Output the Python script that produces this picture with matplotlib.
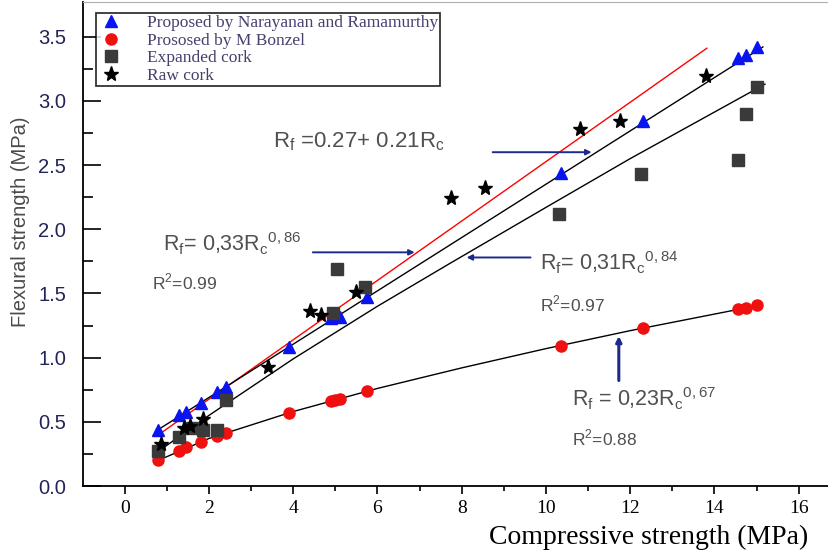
import numpy as np
import matplotlib
matplotlib.use('Agg')
from matplotlib import pyplot as plt

# compressive strength (MPa) shared by the two model series
rc_model = [0.8, 1.3, 1.45, 1.8, 2.2, 2.4, 3.9, 4.9, 5.0, 5.1, 5.75, 10.35, 12.3, 14.55, 14.75, 15.0]
rf_narayanan = [0.44, 0.55, 0.58, 0.65, 0.73, 0.77, 1.08, 1.31, 1.33, 1.32, 1.47, 2.44, 2.84, 3.33, 3.36, 3.42]
rf_bonzel = [0.20, 0.27, 0.30, 0.34, 0.39, 0.41, 0.57, 0.66, 0.67, 0.68, 0.74, 1.09, 1.23, 1.38, 1.39, 1.41]

# measured points
rc_expanded = [0.8, 1.3, 1.6, 1.85, 2.2, 2.4, 4.95, 5.05, 5.7, 10.3, 12.25, 14.55, 14.75, 15.0]
rf_expanded = [0.27, 0.38, 0.45, 0.44, 0.44, 0.67, 1.35, 1.69, 1.55, 2.12, 2.43, 2.54, 2.90, 3.11]
rc_raw = [0.85, 1.4, 1.55, 1.85, 3.4, 4.4, 4.65, 5.5, 7.75, 8.55, 10.8, 11.75, 13.8]
rf_raw = [0.33, 0.45, 0.47, 0.52, 0.93, 1.36, 1.33, 1.51, 2.24, 2.32, 2.78, 2.84, 3.19]

# fitted curves
fit_red_x = [0.85, 13.82]
fit_red_y = [0.41, 3.41]
fit_lin_x = [0.8, 15.15]
fit_lin_y = [0.44, 3.42]
fit_exp_x = [0.8, 2.0, 4.0, 6.0, 7.7, 10.0, 12.0, 15.2]
fit_exp_y = [0.27, 0.55, 0.99, 1.40, 1.73, 2.17, 2.55, 3.13]
fit_bon_x = [0.8, 2.0, 4.0, 6.0, 8.0, 10.0, 12.0, 15.1]
fit_bon_y = [0.20, 0.37, 0.58, 0.76, 0.92, 1.07, 1.21, 1.41]

yticks = [0.0, 0.5, 1.0, 1.5, 2.0, 2.5, 3.0, 3.5]

serif = 'Liberation Serif'
sans = 'Liberation Sans'
navy = '#1c2a8c'
txt = '#505050'

fig = plt.figure(figsize=(8.29, 5.54), dpi=100)
ax = fig.add_axes([83/829, 1-486/554, 1-83/829, 484/554])

ax.plot(fit_red_x, fit_red_y, color='red', lw=1.0, zorder=2)
ax.plot(fit_lin_x, fit_lin_y, color='black', lw=1.0, zorder=2)
ax.plot(fit_exp_x, fit_exp_y, color='black', lw=1.0, zorder=2)
ax.plot(fit_bon_x, fit_bon_y, color='black', lw=1.0, zorder=2)

ax.plot(rc_model, rf_narayanan, '^', color='#0a14f0', ms=9, ls='none', zorder=3,
        label='Proposed by Narayanan and Ramamurthy')
ax.plot(rc_model, rf_bonzel, 'o', color='#f01010', ms=8, ls='none', zorder=3,
        label='Prososed by M Bonzel')
ax.plot(rc_expanded, rf_expanded, 's', color='#3a3a3a', ms=8, ls='none', zorder=3,
        label='Expanded cork')
ax.plot(rc_raw, rf_raw, '*', color='black', ms=11, ls='none', zorder=3,
        label='Raw cork')

ax.set_xlim(-0.99, 16.72)
ax.set_ylim(0, 3.77)
ax.set_xticks(np.arange(0, 17, 2))
ax.set_xticks(np.arange(1, 17, 2), minor=True)
ax.set_yticks(yticks)
ax.set_yticks(np.arange(0.25, 3.6, 0.5), minor=True)
ax.set_yticklabels(['%.1f' % v for v in yticks])
ax.tick_params(axis='x', which='major', direction='out', length=6, width=1.2, labelsize=14, pad=4)
ax.tick_params(axis='x', which='minor', direction='out', length=3.5, width=1.2)
ax.tick_params(axis='y', which='major', direction='in', length=13, width=1.2, labelsize=14.5,
               pad=12, labelcolor='#23235a')
ax.tick_params(axis='y', which='minor', direction='in', length=7, width=1.2)
for lab in ax.get_xticklabels():
    lab.set_family(serif)
for lab in ax.get_yticklabels():
    lab.set_family(sans)

ax.spines['right'].set_visible(False)
ax.spines['top'].set_color('#b0b0b0')
ax.spines['left'].set_linewidth(1.3)
ax.spines['bottom'].set_linewidth(1.3)

ax.set_ylabel('Flexural strength (MPa)', family=sans, fontsize=14.5, color='#4a4a4a')
ax.yaxis.set_label_coords(-53/746, (486-222)/484)
ax.set_xlabel('Compressive strength (MPa)', family=serif, fontsize=20)
ax.xaxis.set_label_coords((808-83)/746, -0.08)
ax.xaxis.label.set_ha('right')

leg = ax.legend(loc='upper left', bbox_to_anchor=(13/746, (486-13)/484), prop={'family': serif, 'size': 12.5},
                frameon=True, fancybox=False, edgecolor='black', handletextpad=1.3,
                borderpad=0.12, labelspacing=0.08, handlelength=1.5, borderaxespad=0)
leg.get_frame().set_linewidth(1.3)
for t in leg.get_texts():
    t.set_color('#45406e')

# annotations
def arrow(x0, y0, x1, y1, lw=1.4):
    ax.annotate('', xy=(x1, y1), xytext=(x0, y0),
                arrowprops=dict(arrowstyle='-|>', color=navy, lw=lw, mutation_scale=8), zorder=4)

ax.text(3.52, 2.64, r'R$_\mathregular{f}$ =0.27+ 0.21R$_\mathregular{c}$', family=sans, fontsize=16, color=txt)
arrow(8.67, 2.60, 11.15, 2.60)

ax.text(0.9, 1.83, r'R$_\mathregular{f}$= 0,33R$_\mathregular{c}$$^\mathregular{0,86}$', family=sans, fontsize=15.5, color=txt)
ax.text(0.65, 1.53, r'R$^\mathregular{2}$=0.99', family=sans, fontsize=12.5, color=txt)
arrow(4.4, 1.82, 6.95, 1.82)

ax.text(9.85, 1.68, r'R$_\mathregular{f}$= 0,31R$_\mathregular{c}$$^\mathregular{0,84}$', family=sans, fontsize=15.5, color=txt)
ax.text(9.85, 1.36, r'R$^\mathregular{2}$=0.97', family=sans, fontsize=12.5, color=txt)
arrow(9.7, 1.78, 8.05, 1.78)

ax.text(10.62, 0.62, r'R$_\mathregular{f}$ = 0,23R$_\mathregular{c}$$^\mathregular{0,67}$', family=sans, fontsize=15.5, color=txt)
ax.text(10.62, 0.32, r'R$^\mathregular{2}$=0.88', family=sans, fontsize=12.5, color=txt)
arrow(11.73, 0.80, 11.73, 1.19, lw=2.2)

fig.savefig('out.png', dpi=100)
